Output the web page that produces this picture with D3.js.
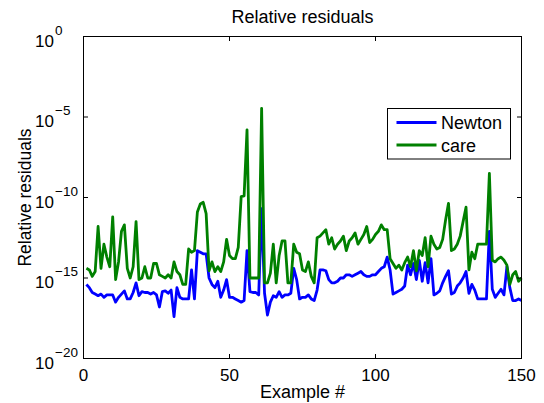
<!DOCTYPE html>
<html>
<head>
<meta charset="utf-8">
<script src="https://cdn.jsdelivr.net/npm/d3@7"></script>
<style>
  body { margin: 0; background: #fff; }
  text { font-family: "Liberation Sans", Arial, sans-serif; fill: #000; }
</style>
</head>
<body>
<div id="chart"></div>
<script>
// exponents (log10 of the relative residual), example 1..150
let newtonExp = [
  -15.4,-15.6,-15.9,-16.0,-16.1,-16.0,-16.2,-16.05,-16.05,-16.05,
  -16.5,-16.2,-16.0,-15.8,-16.3,-16.3,-15.9,-15.3,-16.1,-15.85,
  -15.9,-15.9,-16.0,-15.9,-16.05,-16.8,-15.85,-15.8,-15.95,-15.75,
  -17.4,-15.6,-16.2,-16.3,-16.3,-16.3,-14.5,-16.3,-13.3,-13.4,
  -13.5,-13.5,-15.0,-15.4,-15.6,-15.2,-16.2,-15.75,-15.1,-16.2,
  -16.2,-16.3,-16.4,-16.5,-16.4,-13.3,-15.85,-15.9,-15.9,-16.05,
  -10.7,-15.95,-17.3,-16.5,-16.1,-16.2,-15.85,-16.2,-16.05,-16.05,
  -15.95,-14.4,-15.1,-16.3,-16.2,-16.2,-16.05,-16.3,-16.4,-15.75,
  -14.5,-14.5,-14.55,-15.1,-15.3,-15.3,-15.2,-15.0,-15.0,-14.8,
  -14.8,-14.9,-14.8,-14.7,-14.6,-14.8,-14.9,-14.9,-14.8,-14.8,
  -14.6,-14.4,-14.3,-13.7,-14.5,-16.0,-15.9,-15.8,-15.7,-15.5,
  -14.2,-14.8,-14.1,-15.1,-13.9,-15.2,-14.05,-15.3,-13.8,-16.05,
  -15.95,-15.8,-15.3,-14.9,-14.55,-16.0,-15.9,-15.5,-15.3,-15.0,
  -14.6,-15.95,-15.4,-15.75,-16.3,-16.3,-16.3,-16.3,-12.1,-15.7,
  -16.2,-15.95,-15.7,-16.05,-14.3,-15.6,-16.4,-16.4,-16.3,-16.4
];
let careExp = [
  -14.4,-14.5,-14.9,-14.6,-11.8,-14.4,-12.9,-13.7,-14.3,-11.2,
  -15.1,-14.0,-12.1,-11.7,-14.4,-15.0,-14.3,-11.5,-15.1,-15.0,
  -14.3,-15.0,-15.0,-14.1,-14.1,-14.8,-14.9,-15.0,-14.8,-15.0,
  -14.0,-14.6,-14.8,-15.4,-15.4,-13.2,-13.4,-13.3,-10.9,-10.4,
  -10.3,-11.0,-14.55,-14.0,-14.6,-14.3,-14.6,-14.0,-12.6,-13.6,
  -13.8,-13.8,-13.1,-9.95,-9.9,-5.8,-15.0,-15.0,-15.0,-15.0,
  -4.46,-15.3,-15.3,-14.7,-12.9,-15.3,-13.6,-12.7,-12.7,-15.3,
  -15.3,-12.9,-13.4,-13.5,-14.5,-14.6,-14.0,-14.9,-15.3,-12.5,
  -12.4,-12.2,-12.0,-12.9,-12.5,-13.2,-12.9,-12.7,-12.4,-13.3,
  -12.7,-12.5,-12.2,-12.9,-12.6,-12.3,-11.8,-12.8,-12.6,-12.3,
  -12.1,-11.7,-12.0,-12.0,-13.8,-14.1,-14.4,-14.2,-14.5,-14.05,
  -13.7,-14.3,-13.3,-14.55,-13.3,-13.6,-12.5,-14.3,-12.4,-12.9,
  -13.2,-13.1,-12.6,-11.4,-10.36,-13.3,-13.2,-12.9,-12.4,-11.5,
  -10.6,-14.5,-13.4,-13.8,-12.9,-12.9,-12.9,-12.9,-8.5,-13.9,
  -14.0,-13.8,-13.7,-13.9,-14.2,-15.4,-14.8,-14.6,-15.2,-15.0
];
let seriesNames = ["Newton", "care"];
let seriesColors = ["#0000ff", "#008000"];
let xTicks = [0, 50, 100, 150];
let yTickExps = [0, -5, -10, -15, -20];

const width = 544, height = 403;
const margin = {left: 83.5, right: 22.5, top: 36.5, bottom: 44.5};

let svg = d3.select("#chart").append("svg")
  .attr("width", width)
  .attr("height", height);

let x = d3.scaleLinear().domain([0, 150]).range([margin.left, width - margin.right]);
let y = d3.scaleLog().domain([1e-20, 1]).range([height - margin.bottom, margin.top]);

let series = [newtonExp, careExp].map(function(exps, k){
  return {
    name: seriesNames[k],
    color: seriesColors[k],
    values: exps.map(function(e, i){ return {ex: i + 1, r: Math.pow(10, e)}; })
  };
});

let line = d3.line()
  .x(function(d){ return x(d.ex); })
  .y(function(d){ return y(d.r); });

// plot lines
svg.append("g").selectAll("path")
  .data(series)
  .enter()
  .append("path")
  .attr("d", function(d){ return line(d.values); })
  .attr("fill", "none")
  .attr("stroke", function(d){ return d.color; })
  .attr("stroke-width", 2.8)
  .attr("stroke-linejoin", "round");

// axes box and inward ticks
let x0 = x.range()[0], x1 = x.range()[1];
let y0 = y.range()[0], y1 = y.range()[1];
let axisG = svg.append("g").attr("stroke", "#000").attr("stroke-width", 1);
axisG.append("rect")
  .attr("x", x0).attr("y", y1)
  .attr("width", x1 - x0).attr("height", y0 - y1)
  .attr("fill", "none");
const tickLen = 4.5;
xTicks.forEach(function(t){
  axisG.append("line").attr("x1", x(t)).attr("x2", x(t)).attr("y1", y0).attr("y2", y0 - tickLen);
  axisG.append("line").attr("x1", x(t)).attr("x2", x(t)).attr("y1", y1).attr("y2", y1 + tickLen);
});
yTickExps.forEach(function(e){
  let yy = y(Math.pow(10, e));
  axisG.append("line").attr("x1", x0).attr("x2", x0 + tickLen).attr("y1", yy).attr("y2", yy);
  axisG.append("line").attr("x1", x1).attr("x2", x1 - tickLen).attr("y1", yy).attr("y2", yy);
});

// x tick labels
svg.append("g").selectAll("text")
  .data(xTicks)
  .enter()
  .append("text")
  .attr("x", function(d){ return x(d); })
  .attr("y", 380.5)
  .attr("text-anchor", "middle")
  .style("font-size", "17px")
  .text(function(d){ return d; });

// y tick labels: "10" with superscript exponent
let yLab = svg.append("g").selectAll("g")
  .data(yTickExps)
  .enter()
  .append("g");
yLab.append("text")
  .attr("x", 54)
  .attr("y", function(d){ return y(Math.pow(10, d)) + 10; })
  .attr("text-anchor", "end")
  .style("font-size", "17px")
  .text("10");
yLab.append("text")
  .attr("x", 55)
  .attr("y", function(d){ return y(Math.pow(10, d)) - 2; })
  .style("font-size", "13.5px")
  .text(function(d){ return d < 0 ? "\u2212" + (-d) : d; });

// title and axis labels
svg.append("text")
  .attr("x", (x0 + x1) / 2).attr("y", 23)
  .attr("text-anchor", "middle")
  .style("font-size", "18px")
  .text("Relative residuals");
svg.append("text")
  .attr("x", (x0 + x1) / 2).attr("y", 398)
  .attr("text-anchor", "middle")
  .style("font-size", "18px")
  .text("Example #");
svg.append("text")
  .attr("transform", "translate(30.5," + ((y0 + y1) / 2) + ") rotate(-90)")
  .attr("text-anchor", "middle")
  .style("font-size", "17.5px")
  .text("Relative residuals");

// legend
let legend = svg.append("g").attr("transform", "translate(387.5,108.5)");
legend.append("rect")
  .attr("width", 123).attr("height", 50.5)
  .attr("fill", "#fff")
  .attr("stroke", "#000").attr("stroke-width", 1);
let item = legend.selectAll(".item")
  .data(series)
  .enter()
  .append("g")
  .attr("class", "item")
  .attr("transform", function(d, i){ return "translate(0," + (14 + i * 22.5) + ")"; });
item.append("line")
  .attr("x1", 9).attr("x2", 49)
  .attr("stroke", function(d){ return d.color; })
  .attr("stroke-width", 2.8);
item.append("text")
  .attr("x", 53.5).attr("y", 6.5)
  .style("font-size", "18px")
  .text(function(d){ return d.name; });
</script>
</body>
</html>
